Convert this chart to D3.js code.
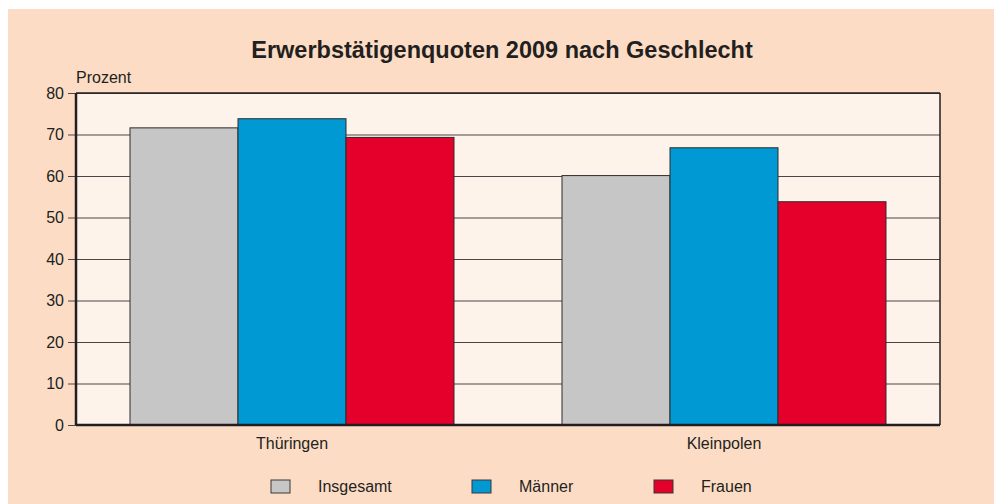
<!DOCTYPE html>
<html>
<head>
<meta charset="utf-8">
<script src="https://cdn.jsdelivr.net/npm/d3@7"></script>
<style>
  body { margin: 0; background: #ffffff; }
  text { font-family: "Liberation Sans", Arial, sans-serif; fill: #231f20; }
</style>
</head>
<body>
<div id="chart"></div>
<script>
// Chart data
var regions = ["Thüringen", "Kleinpolen"];
var seriesNames = ["Insgesamt", "Männer", "Frauen"];
var insgesamt = [71.6, 60.1];
var maenner = [73.8, 66.8];
var frauen = [69.3, 53.8];
var yTicks = [0, 10, 20, 30, 40, 50, 60, 70, 80];

var colors = ["#c6c6c6", "#0099d3", "#e4002b"];

var svgWidth = 994;
var svgHeight = 504;

var margin = { top: 93, right: 54, bottom: 79, left: 76 };
var width = svgWidth - margin.left - margin.right;
var height = svgHeight - margin.top - margin.bottom;

var svg = d3.select("#chart")
    .append("svg")
    .attr("width", svgWidth)
    .attr("height", svgHeight);

// outer background
svg.append("rect")
    .attr("x", 8)
    .attr("y", 9)
    .attr("width", svgWidth - 8)
    .attr("height", svgHeight - 9)
    .attr("fill", "#fcdcc5");

// title
svg.append("text")
    .attr("x", 502)
    .attr("y", 58)
    .attr("text-anchor", "middle")
    .attr("font-size", "23.5px")
    .attr("font-weight", "bold")
    .text("Erwerbstätigenquoten 2009 nach Geschlecht");

var chartGroup = svg.append("g")
    .attr("transform", `translate(${margin.left}, ${margin.top})`);

// plot background
chartGroup.append("rect")
    .attr("width", width)
    .attr("height", height)
    .attr("fill", "#fef3ea");

// scales
var x0 = d3.scaleBand()
    .domain(regions)
    .range([0, width])
    .paddingInner(0.25)
    .paddingOuter(0.125);

var x1 = d3.scaleBand()
    .domain(seriesNames)
    .range([0, x0.bandwidth()]);

var y = d3.scaleLinear()
    .domain([0, 80])
    .range([height, 0]);

// grid lines + ticks
var yAxis = d3.axisLeft(y)
    .tickValues(yTicks)
    .tickSize(-width - 8)
    .tickPadding(5);

var yAxisGroup = chartGroup.append("g")
    .attr("transform", "translate(-8, 0)")
    .call(yAxis);
yAxisGroup.select(".domain").remove();
yAxisGroup.selectAll(".tick line")
    .attr("stroke", "#4a4646")
    .attr("stroke-width", 1.2);
yAxisGroup.selectAll(".tick text")
    .attr("font-size", "16px")
    .attr("fill", "#231f20")
    .attr("x", -4);

// bars
var rows = regions.map(function(r, i) {
    return { region: r, values: [insgesamt[i], maenner[i], frauen[i]] };
});

var groups = chartGroup.selectAll(".region")
    .data(rows)
    .enter()
    .append("g")
    .attr("transform", d => `translate(${x0(d.region)}, 0)`);

groups.selectAll("rect")
    .data(d => d.values.map((v, j) => ({ name: seriesNames[j], value: v, color: colors[j] })))
    .enter()
    .append("rect")
    .attr("x", d => x1(d.name))
    .attr("y", d => y(d.value))
    .attr("width", x1.bandwidth())
    .attr("height", d => height - y(d.value))
    .attr("fill", d => d.color)
    .attr("stroke", "#2e2a2a")
    .attr("stroke-width", 1);

// frame: top and right thin, left and bottom heavier
chartGroup.append("line")
    .attr("x1", 0).attr("x2", width)
    .attr("y1", 0).attr("y2", 0)
    .attr("stroke", "#231f20").attr("stroke-width", 1.5);
chartGroup.append("line")
    .attr("x1", width).attr("x2", width)
    .attr("y1", 0).attr("y2", height)
    .attr("stroke", "#231f20").attr("stroke-width", 1.5);
chartGroup.append("line")
    .attr("x1", 0).attr("x2", 0)
    .attr("y1", 0).attr("y2", height)
    .attr("stroke", "#231f20").attr("stroke-width", 2.5);
chartGroup.append("line")
    .attr("x1", 0).attr("x2", width)
    .attr("y1", height).attr("y2", height)
    .attr("stroke", "#231f20").attr("stroke-width", 2.5);

// x axis labels
var xAxis = d3.axisBottom(x0).tickSize(0).tickPadding(13);
var xAxisGroup = chartGroup.append("g")
    .attr("transform", `translate(0, ${height})`)
    .call(xAxis);
xAxisGroup.select(".domain").remove();
xAxisGroup.selectAll(".tick text")
    .attr("font-size", "16px")
    .attr("fill", "#231f20");

// y axis unit label
svg.append("text")
    .attr("x", 76)
    .attr("y", 83)
    .attr("font-size", "16px")
    .text("Prozent");

// legend
var legendX = [271, 472, 654];
var legend = svg.selectAll(".legend")
    .data(seriesNames)
    .enter()
    .append("g")
    .attr("transform", (d, i) => `translate(${legendX[i]}, 480)`);

legend.append("rect")
    .attr("width", 19)
    .attr("height", 13)
    .attr("fill", (d, i) => colors[i])
    .attr("stroke", "#3a3636")
    .attr("stroke-width", 1);

legend.append("text")
    .attr("x", 47)
    .attr("y", 12)
    .attr("font-size", "16px")
    .text(d => d);
</script>
</body>
</html>
